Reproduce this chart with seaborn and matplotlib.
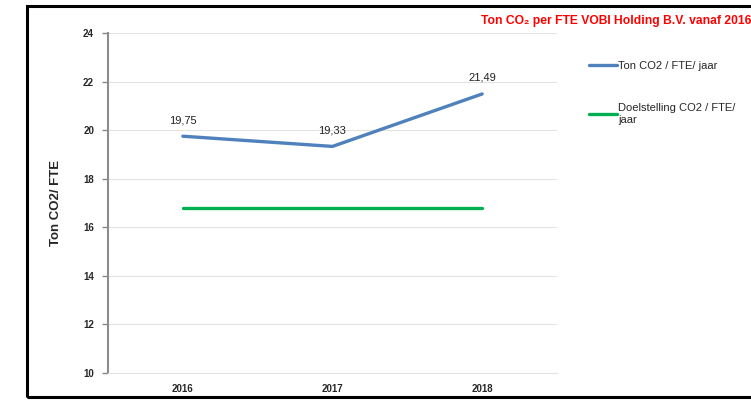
import matplotlib
matplotlib.use("Agg")
import matplotlib.pyplot as plt
import seaborn as sns
import pandas as pd
from matplotlib.patches import Rectangle

years = ["2016", "2017", "2018"]
co2_per_fte = [19.75, 19.33, 21.49]
target = [16.8, 16.8, 16.8]
labels = ["19,75", "19,33", "21,49"]
yticks = [10, 12, 14, 16, 18, 20, 22, 24]

sns.set_theme(style="white")
plt.rcParams['font.family'] = ['Liberation Sans', 'DejaVu Sans']

fig = plt.figure(figsize=(7.51, 4.01), dpi=100)
ax = fig.add_axes([108/751, 1-373/401, (557-108)/751, (373-33)/401])

df = pd.DataFrame({"x": range(len(years)), "co2": co2_per_fte, "target": target})
sns.lineplot(data=df, x="x", y="co2", ax=ax, color="#4f81bd", linewidth=2.4,
             label="Ton CO2 / FTE/ jaar")
sns.lineplot(data=df, x="x", y="target", ax=ax, color="#00b050", linewidth=2.4,
             label="Doelstelling CO2 / FTE/\njaar")

for i, (v, t) in enumerate(zip(co2_per_fte, labels)):
    ax.annotate(t, (i, v), xytext=(0, 8), textcoords="offset points",
                ha="center", va="bottom", fontsize=8, color="#222222")

ax.set_xlim(-0.5, 2.5)
ax.set_ylim(10, 24)
ax.set_yticks(yticks)
ax.set_yticklabels([str(v) for v in yticks], fontsize=7, fontweight="bold")
ax.set_xticks(range(len(years)))
ax.set_xticklabels(years, fontsize=7, fontweight="bold")
ax.tick_params(axis="y", which="both", left=True, length=4, width=1, color="#888888", pad=6)
ax.tick_params(axis="x", length=0, pad=8)
ax.grid(axis="y", color="#e3e3e3", linewidth=0.8)
ax.set_axisbelow(True)
for s in ["top", "right"]:
    ax.spines[s].set_visible(False)
ax.spines["left"].set_color("#8c8c8c")
ax.spines["left"].set_linewidth(1.5)
ax.spines["bottom"].set_color("#e3e3e3")
ax.spines["bottom"].set_linewidth(0.8)
ax.set_xlabel("")
ax.set_ylabel("Ton CO2/ FTE", fontsize=9.5, fontweight="bold", labelpad=15)

leg = ax.legend(loc="upper left", bbox_to_anchor=(579/751, 1-51/401),
                bbox_transform=fig.transFigure, frameon=False, fontsize=8,
                handlelength=2.5, handletextpad=0.1, labelspacing=2.9)

fig.text(481/751, 1-21/401, "Ton CO₂ per FTE VOBI Holding B.V. vanaf 2016",
         color="#ff0000", fontsize=8.7, fontweight="bold", ha="left", va="center",
         family=['Liberation Sans Narrow', 'Liberation Sans', 'DejaVu Sans'])

fig.patches.append(Rectangle((27/751, 1-397/401), 0.99, (397-6)/401,
                             transform=fig.transFigure, fill=False,
                             edgecolor="black", linewidth=2.2, clip_on=False))

fig.savefig("out.png", dpi=100)
